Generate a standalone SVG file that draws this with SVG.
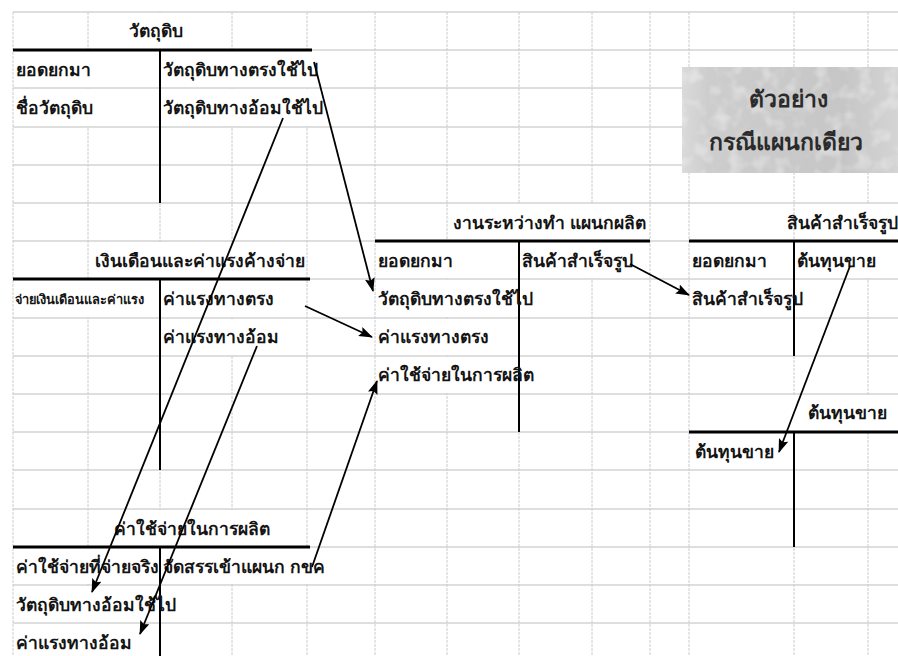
<svg xmlns="http://www.w3.org/2000/svg" width="898" height="656" viewBox="0 0 898 656">
  <defs>
    <style>
      .hline { stroke: #bdbdbd; stroke-width: 1; }
      .vline { stroke: #cccccc; stroke-width: 1; stroke-dasharray: 3 1; }
      .t { font-family: "Noto Sans", "DejaVu Sans", sans-serif; font-size: 17.5px; font-weight: bold; fill: #141414; }
      .small { font-size: 12.8px; }
      .big { font-family: "Noto Sans", "DejaVu Sans", sans-serif; font-size: 23px; font-weight: bold; fill: #2b2b2b; text-anchor: middle; }
      .rule { stroke: #000; stroke-width: 3; }
      .stem { stroke: #000; stroke-width: 2; }
      .cover { fill: #fff; }
      .arrow { stroke: #000; stroke-width: 1.8; fill: none; marker-end: url(#head); }
    </style>
    <marker id="head" viewBox="0 0 14 10" refX="13" refY="5" markerWidth="14" markerHeight="10" markerUnits="userSpaceOnUse" orient="auto">
      <path d="M0,0 L14,5 L0,10 L2.5,5 Z" fill="#000"/>
    </marker>
    <linearGradient id="boxfill" x1="0" y1="0" x2="1" y2="0">
      <stop offset="0" stop-color="#dadada"/>
      <stop offset="0.12" stop-color="#cdcdcd"/>
      <stop offset="0.75" stop-color="#c6c6c6"/>
      <stop offset="1" stop-color="#d4d4d4"/>
    </linearGradient>
    <filter id="grain" x="0" y="0" width="1" height="1">
      <feTurbulence type="fractalNoise" baseFrequency="0.07" numOctaves="2" seed="7" result="n"/>
      <feColorMatrix in="n" type="matrix" values="0 0 0 0 1  0 0 0 0 1  0 0 0 0 1  0 0 0 0.9 -0.42" result="spots"/>
      <feComposite in="spots" in2="SourceGraphic" operator="in" result="clip"/>
      <feMerge><feMergeNode in="SourceGraphic"/><feMergeNode in="clip"/></feMerge>
    </filter>
  </defs>

  <rect width="898" height="656" fill="#fff"/>

  <!-- spreadsheet gridlines -->
  <g id="grid">
    <line class="hline" x1="13" y1="12" x2="898" y2="12"/>
    <line class="hline" x1="13" y1="50" x2="898" y2="50"/>
    <line class="hline" x1="13" y1="88" x2="898" y2="88"/>
    <line class="hline" x1="13" y1="127" x2="898" y2="127"/>
    <line class="hline" x1="13" y1="165" x2="898" y2="165"/>
    <line class="hline" x1="13" y1="203" x2="898" y2="203"/>
    <line class="hline" x1="13" y1="241" x2="898" y2="241"/>
    <line class="hline" x1="13" y1="279" x2="898" y2="279"/>
    <line class="hline" x1="13" y1="318" x2="898" y2="318"/>
    <line class="hline" x1="13" y1="356" x2="898" y2="356"/>
    <line class="hline" x1="13" y1="394" x2="898" y2="394"/>
    <line class="hline" x1="13" y1="432" x2="898" y2="432"/>
    <line class="hline" x1="13" y1="470" x2="898" y2="470"/>
    <line class="hline" x1="13" y1="509" x2="898" y2="509"/>
    <line class="hline" x1="13" y1="547" x2="898" y2="547"/>
    <line class="hline" x1="13" y1="585" x2="898" y2="585"/>
    <line class="hline" x1="13" y1="623" x2="898" y2="623"/>
    <line class="vline" x1="13" y1="12" x2="13" y2="656"/>
    <line class="vline" x1="88" y1="12" x2="88" y2="656"/>
    <line class="vline" x1="160" y1="12" x2="160" y2="656"/>
    <line class="vline" x1="232" y1="12" x2="232" y2="656"/>
    <line class="vline" x1="307" y1="12" x2="307" y2="656"/>
    <line class="vline" x1="375" y1="12" x2="375" y2="656"/>
    <line class="vline" x1="447" y1="12" x2="447" y2="656"/>
    <line class="vline" x1="519" y1="12" x2="519" y2="656"/>
    <line class="vline" x1="592" y1="12" x2="592" y2="656"/>
    <line class="vline" x1="650" y1="12" x2="650" y2="656"/>
    <line class="vline" x1="689" y1="12" x2="689" y2="656"/>
    <line class="vline" x1="794" y1="12" x2="794" y2="656"/>
    <line class="vline" x1="868" y1="12" x2="868" y2="656"/>
  </g>

  <!-- cells that long labels spill into (gridlines hidden there) -->
  <g id="spill">
    <rect class="cover" x="89" y="13" width="142" height="36"/>
    <rect class="cover" x="14" y="51" width="145" height="36"/>
    <rect class="cover" x="161" y="51" width="158" height="36"/>
    <rect class="cover" x="14" y="89" width="145" height="37"/>
    <rect class="cover" x="161" y="89" width="164" height="37"/>
    <rect class="cover" x="448" y="204" width="201" height="36"/>
    <rect class="cover" x="795" y="204" width="103" height="36"/>
    <rect class="cover" x="89" y="242" width="217" height="36"/>
    <rect class="cover" x="376" y="242" width="142" height="36"/>
    <rect class="cover" x="520" y="242" width="129" height="36"/>
    <rect class="cover" x="795" y="242" width="103" height="36"/>
    <rect class="cover" x="14" y="280" width="292" height="37"/>
    <rect class="cover" x="376" y="280" width="215" height="37"/>
    <rect class="cover" x="690" y="280" width="177" height="37"/>
    <rect class="cover" x="161" y="319" width="145" height="36"/>
    <rect class="cover" x="376" y="319" width="142" height="36"/>
    <rect class="cover" x="376" y="357" width="215" height="36"/>
    <rect class="cover" x="690" y="395" width="208" height="36"/>
    <rect class="cover" x="89" y="510" width="217" height="36"/>
    <rect class="cover" x="14" y="548" width="311" height="36"/>
    <rect class="cover" x="14" y="586" width="217" height="36"/>
    <rect class="cover" x="14" y="624" width="145" height="32"/>
  </g>

  <!-- caption panel -->
  <g id="caption">
    <rect x="682" y="67" width="216" height="106" fill="url(#boxfill)" filter="url(#grain)"/>
    <text class="big" x="788" y="107">ตัวอย่าง</text>
    <text class="big" x="786" y="150">กรณีแผนกเดียว</text>
  </g>

  <!-- T-account: raw materials -->
  <g id="raw-materials">
    <line class="rule" x1="13" y1="50" x2="312" y2="50"/>
    <line class="stem" x1="160" y1="50" x2="160" y2="203"/>
    <text class="t" x="156" y="37" text-anchor="middle">วัตถุดิบ</text>
    <text class="t" x="16" y="76">ยอดยกมา</text>
    <text class="t" x="163" y="76">วัตถุดิบทางตรงใช้ไป</text>
    <text class="t" x="16" y="114">ชื่อวัตถุดิบ</text>
    <text class="t" x="163" y="114">วัตถุดิบทางอ้อมใช้ไป</text>
  </g>

  <!-- T-account: accrued salaries and wages -->
  <g id="accrued-wages">
    <line class="rule" x1="13" y1="279" x2="310" y2="279"/>
    <line class="stem" x1="160" y1="279" x2="160" y2="470"/>
    <text class="t" x="305" y="267" text-anchor="end">เงินเดือนและค่าแรงค้างจ่าย</text>
    <text class="t small" x="15" y="304">จ่ายเงินเดือนและค่าแรง</text>
    <text class="t" x="163" y="305">ค่าแรงทางตรง</text>
    <text class="t" x="163" y="343">ค่าแรงทางอ้อม</text>
  </g>

  <!-- T-account: work in process, production department -->
  <g id="wip">
    <line class="rule" x1="375" y1="241" x2="650" y2="241"/>
    <line class="stem" x1="519" y1="241" x2="519" y2="432"/>
    <text class="t" x="646" y="229" text-anchor="end">งานระหว่างทำ แผนกผลิต</text>
    <text class="t" x="378" y="267">ยอดยกมา</text>
    <text class="t" x="522" y="267">สินค้าสำเร็จรูป</text>
    <text class="t" x="378" y="305">วัตถุดิบทางตรงใช้ไป</text>
    <text class="t" x="378" y="343">ค่าแรงทางตรง</text>
    <text class="t" x="378" y="381">ค่าใช้จ่ายในการผลิต</text>
  </g>

  <!-- T-account: finished goods -->
  <g id="finished-goods">
    <line class="rule" x1="689" y1="241" x2="898" y2="241"/>
    <line class="stem" x1="794" y1="241" x2="794" y2="356"/>
    <text class="t" x="787" y="229">สินค้าสำเร็จรูป</text>
    <text class="t" x="692" y="267">ยอดยกมา</text>
    <text class="t" x="797" y="267">ต้นทุนขาย</text>
    <text class="t" x="692" y="305">สินค้าสำเร็จรูป</text>
  </g>

  <!-- T-account: cost of sales -->
  <g id="cost-of-sales">
    <line class="rule" x1="689" y1="432" x2="898" y2="432"/>
    <line class="stem" x1="794" y1="432" x2="794" y2="547"/>
    <text class="t" x="887" y="419" text-anchor="end">ต้นทุนขาย</text>
    <text class="t" x="695" y="458">ต้นทุนขาย</text>
  </g>

  <!-- T-account: manufacturing overhead -->
  <g id="overhead">
    <line class="rule" x1="13" y1="547" x2="310" y2="547"/>
    <line class="stem" x1="160" y1="547" x2="160" y2="656"/>
    <text class="t" x="192" y="535" text-anchor="middle">ค่าใช้จ่ายในการผลิต</text>
    <text class="t" x="16" y="573">ค่าใช้จ่ายที่จ่ายจริง</text>
    <text class="t" x="163" y="573">จัดสรรเข้าแผนก กขค</text>
    <text class="t" x="16" y="611">วัตถุดิบทางอ้อมใช้ไป</text>
    <text class="t" x="16" y="649">ค่าแรงทางอ้อม</text>
  </g>

  <!-- posting arrows between accounts -->
  <g id="connectors">
    <line class="arrow" x1="314" y1="62" x2="373" y2="291"/>
    <line class="arrow" x1="283" y1="118" x2="92" y2="592"/>
    <line class="arrow" x1="305" y1="306" x2="372" y2="337"/>
    <line class="arrow" x1="257" y1="346" x2="140" y2="634"/>
    <line class="arrow" x1="312" y1="567" x2="377" y2="381"/>
    <line class="arrow" x1="630" y1="264" x2="689" y2="295"/>
    <line class="arrow" x1="850" y1="266" x2="779" y2="452"/>
  </g>
</svg>
